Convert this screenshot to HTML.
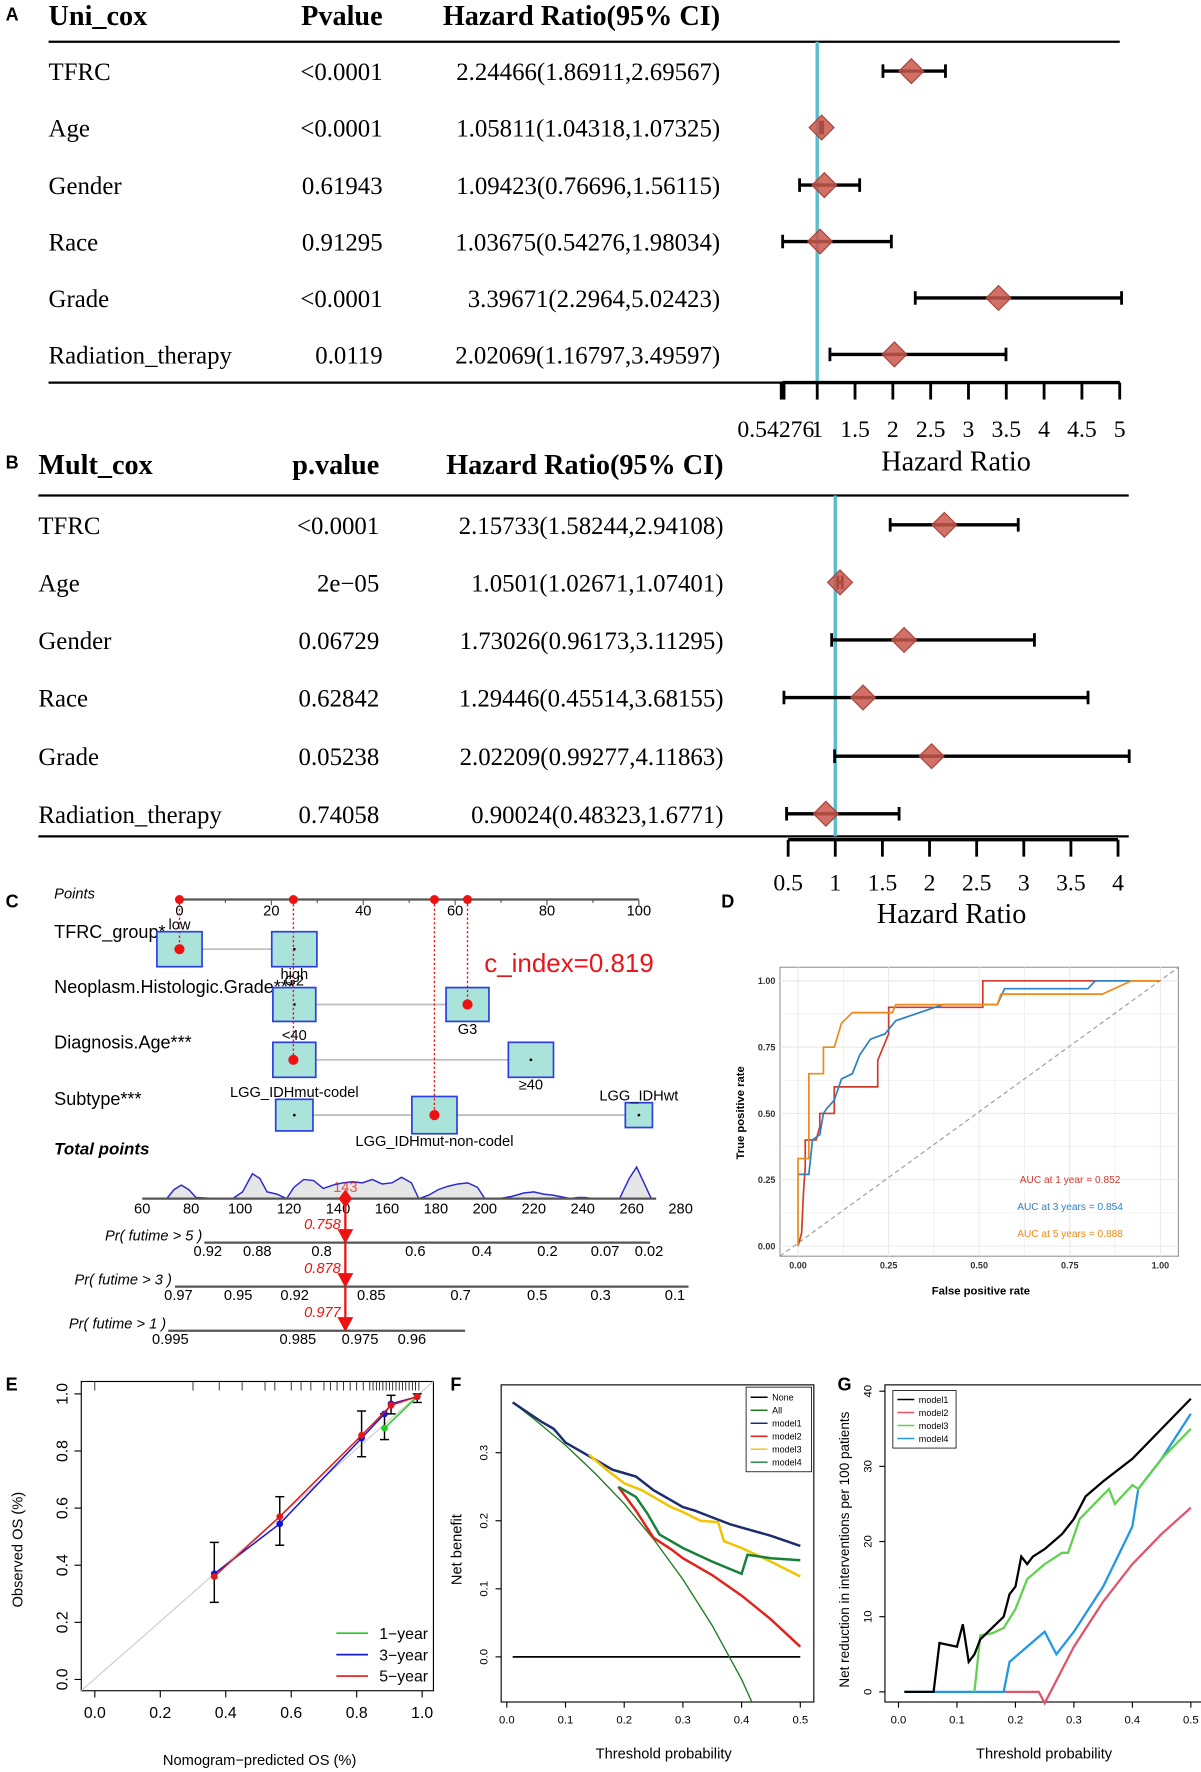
<!DOCTYPE html>
<html><head><meta charset="utf-8"><style>
html,body{margin:0;padding:0;background:#fff;}
svg{display:block;}
</style></head><body>
<svg id="fig" xmlns="http://www.w3.org/2000/svg" width="1201" height="1772" viewBox="0 0 1064 1570" preserveAspectRatio="none"></svg>
<script>
// ---------- DATA ----------
const uniNames=['TFRC','Age','Gender','Race','Grade','Radiation_therapy'];
const uniP=['<0.0001','<0.0001','0.61943','0.91295','<0.0001','0.0119'];
const uniHR=[2.24466,1.05811,1.09423,1.03675,3.39671,2.02069];
const uniLo=[1.86911,1.04318,0.76696,0.54276,2.2964,1.16797];
const uniHi=[2.69567,1.07325,1.56115,1.98034,5.02423,3.49597];
const uniTicks=[0.54276,1,1.5,2,2.5,3,3.5,4,4.5,5];
const multNames=['TFRC','Age','Gender','Race','Grade','Radiation_therapy'];
const multP=['<0.0001','2e\u221205','0.06729','0.62842','0.05238','0.74058'];
const multHR=[2.15733,1.0501,1.73026,1.29446,2.02209,0.90024];
const multLo=[1.58244,1.02671,0.96173,0.45514,0.99277,0.48323];
const multHi=[2.94108,1.07401,3.11295,3.68155,4.11863,1.6771];
const multTicks=[0.5,1,1.5,2,2.5,3,3.5,4];
// nomogram
const pointTicks=[0,10,20,30,40,50,60,70,80,90,100];
const selPoints=[0,24.8,55.5,62.7];
const totalTicks=[60,80,100,120,140,160,180,200,220,240,260,280];
const densX=[70,73,76,79,82,90,97,101,105,108,111,115,119,122,126,130,134,138,142,146,150,154,158,162,166,170,173,177,181,185,189,193,197,200,206,211,216,220,224,228,235,238,241,244,255,259,262,265,268];
const densY=[0,8,12,8,1,0,0,6,22,18,6,4,0,10,17,16,9,12,14,15,14,17,13,14,19,14,0,3,8,11,13,14,10,0,0,2,5,6,4,3,0,1,1,0,0,18,28,14,0];
const selTotal=143;
const pr5Labels=['0.92','0.88','0.8','0.6','0.4','0.2','0.07','0.02'];
const pr5Pos=[86.8,107,133.3,171.6,198.8,225.6,249.1,267.1];
const pr3Labels=['0.97','0.95','0.92','0.85','0.7','0.5','0.3','0.1'];
const pr3Pos=[74.8,99.2,122.3,153.6,190.1,221.4,247.3,277.7];
const pr1Labels=['0.995','0.985','0.975','0.96'];
const pr1Pos=[71.5,123.6,149,170.2];
// ROC
const rocRedX=[0,0.01,0.015,0.02,0.02,0.05,0.06,0.06,0.1,0.1,0.22,0.22,0.25,0.25,0.51,0.51,1];
const rocRedY=[0,0.05,0.2,0.3,0.4,0.4,0.45,0.5,0.5,0.6,0.6,0.7,0.8,0.9,0.9,1,1];
const rocBlueX=[0,0.03,0.04,0.06,0.07,0.08,0.1,0.12,0.15,0.17,0.2,0.24,0.27,0.4,0.55,0.57,0.8,0.82,1];
const rocBlueY=[0.27,0.27,0.4,0.42,0.5,0.52,0.55,0.63,0.65,0.72,0.78,0.8,0.85,0.91,0.91,0.97,0.97,1,1];
const rocOrX=[0,0,0.03,0.03,0.07,0.07,0.1,0.12,0.15,0.26,0.27,0.55,0.56,0.84,0.92,1];
const rocOrY=[0,0.33,0.33,0.65,0.65,0.75,0.75,0.84,0.88,0.88,0.91,0.91,0.95,0.95,1,1];
const aucLabels=['AUC at 1 year = 0.852','AUC at 3 years = 0.854','AUC at 5 years = 0.888'];
// calibration
const calPred=[0.365,0.565,0.815,0.885,0.905,0.985];
const calLo=[0.27,0.47,0.78,0.84,0.93,0.97];
const calHi=[0.48,0.64,0.94,0.93,0.995,1.0];
const cal5X=[0.365,0.565,0.815,0.905,0.985];
const cal5Y=[0.36,0.57,0.855,0.96,0.99];
const cal3X=[0.365,0.565,0.815,0.885,0.905,0.985];
const cal3Y=[0.37,0.545,0.845,0.93,0.965,0.99];
const cal1X=[0.885,0.985];
const cal1Y=[0.88,0.99];
const rug=[0.0,0.3,0.38,0.45,0.52,0.55,0.6,0.63,0.66,0.7,0.72,0.74,0.76,0.78,0.8,0.82,0.84,0.85,0.86,0.87,0.88,0.89,0.9,0.91,0.92,0.93,0.94,0.95,0.96,0.97,0.98,0.99];
// DCA F
const dAllX=[0.01,0.05,0.1,0.15,0.2,0.25,0.3,0.35,0.4,0.43];
const dAllY=[0.374,0.347,0.311,0.27,0.225,0.173,0.114,0.046,-0.033,-0.09];
const dM1X=[0.01,0.06,0.08,0.1,0.13,0.15,0.18,0.2,0.22,0.25,0.28,0.3,0.32,0.35,0.38,0.4,0.45,0.5];
const dM1Y=[0.374,0.345,0.335,0.315,0.3,0.29,0.275,0.27,0.265,0.245,0.23,0.22,0.215,0.205,0.195,0.19,0.178,0.163];
const dM2X=[0.19,0.22,0.25,0.28,0.3,0.35,0.4,0.45,0.5];
const dM2Y=[0.25,0.215,0.175,0.158,0.145,0.12,0.09,0.055,0.015];
const dM3X=[0.14,0.17,0.2,0.23,0.25,0.28,0.3,0.33,0.36,0.37,0.4,0.45,0.5];
const dM3Y=[0.297,0.275,0.255,0.245,0.235,0.22,0.213,0.2,0.198,0.17,0.16,0.14,0.118];
const dM4X=[0.19,0.22,0.24,0.26,0.3,0.35,0.4,0.41,0.45,0.5];
const dM4Y=[0.25,0.235,0.21,0.18,0.16,0.14,0.122,0.15,0.145,0.142];
const fTicksX=[0,0.1,0.2,0.3,0.4,0.5];
const fTicksY=[0,0.1,0.2,0.3];
// G
const gM1X=[0.01,0.06,0.07,0.1,0.11,0.12,0.13,0.14,0.16,0.18,0.19,0.2,0.21,0.22,0.23,0.25,0.28,0.3,0.32,0.35,0.4,0.45,0.5];
const gM1Y=[0,0,6.5,6,9,4,5,7,8.5,10,13,14,18,17,18,19,21,23,26,28,31,35,39];
const gM2X=[0.18,0.24,0.25,0.26,0.3,0.35,0.4,0.45,0.5];
const gM2Y=[0,0,-1.5,0,6,12,17,21,24.5];
const gM3X=[0.13,0.14,0.16,0.18,0.2,0.22,0.25,0.28,0.29,0.31,0.36,0.37,0.4,0.41,0.45,0.5];
const gM3Y=[0,7.5,7.8,8.5,11,15,17,18.5,18.5,23,27,25,27.5,27,31,35];
const gM4X=[0.01,0.18,0.19,0.25,0.27,0.3,0.35,0.4,0.41,0.45,0.5];
const gM4Y=[0,0,4,8,5,8,14,22,27,31,37];
const gTicksY=[0,10,20,30,40];

// ---------- HELPERS ----------
const NS='http://www.w3.org/2000/svg';
const svg=document.getElementById('fig');
function mk(tag,attrs,parent,text){const e=document.createElementNS(NS,tag);for(const k in attrs)e.setAttribute(k,attrs[k]);if(text!=null)e.textContent=text;(parent||svg).appendChild(e);return e;}
function grp(parent){return mk('g',{},parent);}
function poly(xs,ys,sx,sy){return xs.map((x,i)=>sx(x).toFixed(1)+','+sy(ys[i]).toFixed(1)).join(' ');}
const SERIF='Liberation Serif, serif', SANS='Liberation Sans, sans-serif';

// ---------- FOREST PLOTS ----------
function forest(o){
  const g=grp();
  
  
  let L=mk('text',{x:5,y:o.letterY,'font-family':SANS,'font-weight':'bold','font-size':16},g,o.letter);
  
  
  const hy=o.headY;
  let h1=mk('text',{x:o.x0,y:hy,'font-family':SERIF,'font-weight':'bold','font-size':25},g,o.title);
  
  
  let h2=mk('text',{x:o.pRight,y:hy,'text-anchor':'end','font-family':SERIF,'font-weight':'bold','font-size':25},g,o.pHead);
  
  
  let h3=mk('text',{x:o.hrRight,y:hy,'text-anchor':'end','font-family':SERIF,'font-weight':'bold','font-size':25},g,'Hazard Ratio(95% CI)');
  
  
  mk('line',{x1:o.x0,x2:o.xEnd,y1:o.topY,y2:o.topY,stroke:'#000','stroke-width':2},g);
  mk('line',{x1:o.x0,x2:o.xEnd,y1:o.botY,y2:o.botY,stroke:'#000','stroke-width':2},g);
  const sx=v=>o.oneX+(v-1)*o.unit;
  mk('line',{x1:sx(1),x2:sx(1),y1:o.topY,y2:o.botY,stroke:'#5bbccc','stroke-width':3},g);
  o.names.forEach((n,i)=>{
    const y=o.rows[i];
    let t=mk('text',{x:o.x0,y:y+8,'font-family':SERIF,'font-size':22},g,n);
    
    
    let p=mk('text',{x:o.pRight,y:y+8,'text-anchor':'end','font-family':SERIF,'font-size':22},g,o.p[i]);
    
    
    let h=mk('text',{x:o.hrRight,y:y+8,'text-anchor':'end','font-family':SERIF,'font-size':22},g,o.hr[i]+'('+o.lo[i]+','+o.hi[i]+')');
    
    
    let ci=mk('g',{},g);
    
    
    mk('line',{x1:sx(o.lo[i]),x2:sx(o.hi[i]),y1:y,y2:y,stroke:'#000','stroke-width':3},ci);
    mk('line',{x1:sx(o.lo[i]),x2:sx(o.lo[i]),y1:y-6,y2:y+6,stroke:'#000','stroke-width':2.5},ci);
    mk('line',{x1:sx(o.hi[i]),x2:sx(o.hi[i]),y1:y-6,y2:y+6,stroke:'#000','stroke-width':2.5},ci);
    const cx=sx(o.hr[i]);
    let d=mk('polygon',{points:`${cx-11},${y} ${cx},${y-11} ${cx+11},${y} ${cx},${y+11}`,fill:'#c9574c','fill-opacity':0.85,stroke:'#a84036','stroke-width':1},g);
    
    
  });
  const ax=grp(g);
  
  
  const t0=sx(o.ticks[0]),t1=sx(o.ticks[o.ticks.length-1]);
  mk('line',{x1:t0,x2:t1,y1:o.axisY,y2:o.axisY,stroke:'#000','stroke-width':3},ax);
  o.ticks.forEach((v,i)=>{
    mk('line',{x1:sx(v),x2:sx(v),y1:o.axisY,y2:o.axisY+15,stroke:'#000','stroke-width':(i==0&&o.thickFirst)?5:2.5},ax);
    let tl=mk('text',{x:sx(v)-(i==0&&o.thickFirst?6:0),y:o.tickLabY,'text-anchor':'middle','font-family':SERIF,'font-size':21},ax,String(v));
    
    
  });
  let xt=mk('text',{x:o.titleX,y:o.titleY,'text-anchor':'middle','font-family':SERIF,'font-size':25},g,'Hazard Ratio');
  
  
}
forest({name:'panel-a-univariate-cox',letter:'A',letterY:18,title:'Uni_cox',pHead:'Pvalue',x0:43,xEnd:992,pRight:339,hrRight:638,headY:22,topY:37,botY:339,
  rows:[63,113,164,214,264,314],names:uniNames,p:uniP,hr:uniHR,lo:uniLo,hi:uniHi,oneX:724,unit:67,ticks:uniTicks,thickFirst:true,axisY:339,tickLabY:387,titleX:847,titleY:417});
forest({name:'panel-b-multivariate-cox',letter:'B',letterY:415,title:'Mult_cox',pHead:'p.value',x0:34,xEnd:1000,pRight:336,hrRight:641,headY:420,topY:439,botY:741,
  rows:[465,516,567,618,670,721],names:multNames,p:multP,hr:multHR,lo:multLo,hi:multHi,oneX:740,unit:83.5,ticks:multTicks,thickFirst:false,axisY:744,tickLabY:789,titleX:843,titleY:818});

// ---------- NOMOGRAM C ----------
(function(){
  const g=grp();
  
  
  let L=mk('text',{x:5,y:804,'font-family':SANS,'font-weight':'bold','font-size':16},g,'C');
  
  
  const px=v=>159+v*4.07;
  const ay=797;
  mk('line',{x1:px(0),x2:px(100),y1:ay,y2:ay,stroke:'#555','stroke-width':2},g);
  pointTicks.forEach(v=>{
    mk('line',{x1:px(v),x2:px(v),y1:ay,y2:ay+(v%20==0?5:3),stroke:'#555','stroke-width':1},g);
    if(v%20==0){let t=mk('text',{x:px(v),y:ay+14,'text-anchor':'middle','font-family':SANS,'font-size':13},g,String(v));
      
      }
  });
  let pl=mk('text',{x:48,y:796,'font-family':SANS,'font-style':'italic','font-size':13},g,'Points');
  
  
  const rows=[
    {label:'TFRC_group*',ly:831,by:841,boxes:[{v:0,w:40,h:31,t:'low',tp:'above'},{v:25,w:40,h:31,t:'high',tp:'below'}]},
    {label:'Neoplasm.Histologic.Grade***',ly:880,by:890,boxes:[{v:25,w:38,h:30,t:'G2',tp:'above'},{v:62.7,w:38,h:30,t:'G3',tp:'below'}]},
    {label:'Diagnosis.Age***',ly:929,by:939,boxes:[{v:25,w:38,h:31,t:'<40',tp:'above'},{v:76.5,w:40,h:31,t:'\u226540',tp:'below'}]},
    {label:'Subtype***',ly:979,by:988,boxes:[{v:25,w:33,h:28,t:'LGG_IDHmut-codel',tp:'above'},{v:55.5,w:40,h:33,t:'LGG_IDHmut-non-codel',tp:'below'},{v:100,w:24,h:22,t:'LGG_IDHwt',tp:'above'}]},
  ];
  rows.forEach(r=>{
    let t=mk('text',{x:48,y:r.ly,'font-family':SANS,'font-size':16},g,r.label);
    
    
    const xs=r.boxes.map(b=>px(b.v));
    mk('line',{x1:Math.min(...xs),x2:Math.max(...xs),y1:r.by,y2:r.by,stroke:'#bbb','stroke-width':1.5},g);
    r.boxes.forEach(b=>{
      const x=px(b.v);
      let bx=mk('rect',{x:x-b.w/2,y:r.by-b.h/2,width:b.w,height:b.h,fill:'#a9e3da',stroke:'#2d3fe0','stroke-width':1.5},g);
      
      
      mk('circle',{cx:x,cy:r.by,r:1.2,fill:'#000'},g);
      const ty=b.tp=='above'?r.by-b.h/2-2:r.by+b.h/2+11;
      let lt=mk('text',{x:x,y:ty,'text-anchor':'middle','font-family':SANS,'font-size':13},g,b.t);
      
      
    });
  });
  const targets=[841,939,988,890];
  selPoints.forEach((v,i)=>{
    mk('line',{x1:px(v),x2:px(v),y1:ay,y2:targets[i],stroke:'#e11','stroke-width':1.2,'stroke-dasharray':'2,2'},g);
    let d=mk('circle',{cx:px(v),cy:ay,r:4,fill:'#e11'},g);
    
    
    mk('circle',{cx:px(v),cy:targets[i],r:4.5,fill:'#e11'},g);
  });
  let ci=mk('text',{x:429,y:861,'font-family':SANS,'font-size':23,fill:'#e8161b'},g,'c_index=0.819');
  
  
  let tp=mk('text',{x:48,y:1023,'font-family':SANS,'font-style':'italic','font-weight':'bold','font-size':15},g,'Total points');
  
  
  const tx=v=>126+(v-60)*(477/220);
  const ty0=1062;
  const pts=densX.map((x,i)=>tx(x).toFixed(1)+','+(ty0-densY[i]).toFixed(1)).join(' ');
  let dens=mk('polygon',{points:pts,fill:'#e6e6e6',stroke:'#2a2ad0','stroke-width':1.3},g);
  
  
  mk('line',{x1:tx(60),x2:tx(270),y1:ty0,y2:ty0,stroke:'#555','stroke-width':2},g);
  totalTicks.forEach(v=>{
    let t=mk('text',{x:tx(v),y:ty0+13,'text-anchor':'middle','font-family':SANS,'font-size':13},g,String(v));
    
    
  });
  const sx=tx(selTotal);
  mk('text',{x:sx,y:ty0-6,'text-anchor':'middle','font-family':SANS,'font-size':13,fill:'#e11','fill-opacity':0.7},g,String(selTotal));
  mk('polygon',{points:`${sx-6},${ty0} ${sx},${ty0-8} ${sx+6},${ty0} ${sx},${ty0+8}`,fill:'#e11'},g);
  const prs=[
    {lab:'Pr( futime > 5 )',lx:93,y:1101,x1:181,x2:576,labels:pr5Labels,pos:pr5Pos,val:'0.758'},
    {lab:'Pr( futime > 3 )',lx:66,y:1140,x1:155,x2:610,labels:pr3Labels,pos:pr3Pos,val:'0.878'},
    {lab:'Pr( futime > 1 )',lx:61,y:1179,x1:149,x2:412,labels:pr1Labels,pos:pr1Pos,val:'0.977'},
  ];
  mk('line',{x1:sx,x2:sx,y1:ty0,y2:1179,stroke:'#e11','stroke-width':2},g);
  prs.forEach(p=>{
    let l=mk('text',{x:p.lx,y:p.y-2,'font-family':SANS,'font-style':'italic','font-size':13},g,p.lab);
    
    
    mk('line',{x1:p.x1,x2:p.x2,y1:p.y,y2:p.y,stroke:'#555','stroke-width':2},g);
    p.labels.forEach((s,i)=>{
      let t=mk('text',{x:tx(p.pos[i]),y:p.y+12,'text-anchor':'middle','font-family':SANS,'font-size':13},g,s);
      
      
    });
    mk('polygon',{points:`${sx-7},${p.y-12} ${sx+7},${p.y-12} ${sx},${p.y+1}`,fill:'#e11'},g);
    let v=mk('text',{x:sx-4,y:p.y-12,'text-anchor':'end','font-family':SANS,'font-style':'italic','font-size':13,fill:'#e11'},g,p.val);
    
    
  });
})();

// ---------- ROC D ----------
(function(){
  const g=grp();
  
  
  let L=mk('text',{x:639,y:804,'font-family':SANS,'font-weight':'bold','font-size':16},g,'D');
  
  
  const sx=f=>707+f*321, sy=t=>1104-t*235;
  mk('rect',{x:691,y:857,width:353,height:256,fill:'#fff',stroke:'#999','stroke-width':1},g);
  [0,0.125,0.25,0.375,0.5,0.625,0.75,0.875,1].forEach((v,i)=>{
    const w=i%2==0?0.9:0.5;
    mk('line',{x1:sx(v),x2:sx(v),y1:857,y2:1113,stroke:'#e8e8e8','stroke-width':w},g);
    mk('line',{x1:691,x2:1044,y1:sy(v),y2:sy(v),stroke:'#e8e8e8','stroke-width':w},g);
  });
  [0,0.25,0.5,0.75,1].forEach(v=>{
    let a=mk('text',{x:sx(v),y:1124,'text-anchor':'middle','font-family':SANS,'font-size':8,'font-weight':'bold',fill:'#333'},g,v.toFixed(2));
    
    
    let b=mk('text',{x:687,y:sy(v)+3,'text-anchor':'end','font-family':SANS,'font-size':8,'font-weight':'bold',fill:'#333'},g,v.toFixed(2));
    
    
  });
  mk('line',{x1:691,y1:1113,x2:1044,y2:857,stroke:'#999','stroke-width':1,'stroke-dasharray':'4,3'},g);
  const series=[[rocRedX,rocRedY,'#d23a2a','roc-1-year'],[rocBlueX,rocBlueY,'#2c7fc4','roc-3-years'],[rocOrX,rocOrY,'#ec8a1a','roc-5-years']];
  series.forEach(s=>{
    let p=mk('polyline',{points:poly(s[0],s[1],sx,sy),fill:'none',stroke:s[2],'stroke-width':1.5},g);
    
    
  });
  const cols=['#d23a2a','#2c7fc4','#ec8a1a'];
  aucLabels.forEach((s,i)=>{
    let t=mk('text',{x:948,y:1048+i*24,'text-anchor':'middle','font-family':SANS,'font-size':9,fill:cols[i]},g,s);
    
    
  });
  let xt=mk('text',{x:869,y:1147,'text-anchor':'middle','font-family':SANS,'font-size':10,'font-weight':'bold'},g,'False positive rate');
  
  
  let yt=mk('text',{x:0,y:0,'text-anchor':'middle','font-family':SANS,'font-size':10,'font-weight':'bold',transform:'translate(659,986) rotate(-90)'},g,'True positive rate');
  
  
})();

// ---------- CALIBRATION E ----------
(function(){
  const g=grp();
  
  
  let L=mk('text',{x:5,y:1232,'font-family':SANS,'font-weight':'bold','font-size':16},g,'E');
  
  
  const sx=v=>84+v*290, sy=v=>1488-v*253;
  mk('rect',{x:72,y:1224,width:312,height:274,fill:'none',stroke:'#000','stroke-width':1},g);
  mk('line',{x1:72,y1:1498,x2:384,y2:1224,stroke:'#ccc','stroke-width':1},g);
  rug.forEach(v=>mk('line',{x1:sx(v),x2:sx(v),y1:1224,y2:1232,stroke:'#000','stroke-width':0.7},g));
  [0,0.2,0.4,0.6,0.8,1].forEach(v=>{
    mk('line',{x1:sx(v),x2:sx(v),y1:1498,y2:1504,stroke:'#000'},g);
    let a=mk('text',{x:sx(v),y:1522,'text-anchor':'middle','font-family':SANS,'font-size':14},g,v.toFixed(1));
    
    
    mk('line',{x1:72,x2:66,y1:sy(v),y2:sy(v),stroke:'#000'},g);
    let b=mk('text',{x:0,y:0,'text-anchor':'middle','font-family':SANS,'font-size':14,transform:`translate(60,${sy(v)}) rotate(-90)`},g,v.toFixed(1));
    
    
  });
  calPred.forEach((x,i)=>{
    let e=mk('g',{},g);
    
    
    mk('line',{x1:sx(x),x2:sx(x),y1:sy(calLo[i]),y2:sy(calHi[i]),stroke:'#000','stroke-width':1.3},e);
    mk('line',{x1:sx(x)-4,x2:sx(x)+4,y1:sy(calLo[i]),y2:sy(calLo[i]),stroke:'#000','stroke-width':1.3},e);
    mk('line',{x1:sx(x)-4,x2:sx(x)+4,y1:sy(calHi[i]),y2:sy(calHi[i]),stroke:'#000','stroke-width':1.3},e);
  });
  const ser=[[cal1X,cal1Y,'#22cc22','calibration-1-year'],[cal3X,cal3Y,'#1515d8','calibration-3-year'],[cal5X,cal5Y,'#e01818','calibration-5-year']];
  ser.forEach(s=>{
    let p=mk('polyline',{points:poly(s[0],s[1],sx,sy),fill:'none',stroke:s[2],'stroke-width':1.3},g);
    
    
    s[0].forEach((x,i)=>mk('circle',{cx:sx(x),cy:sy(s[1][i]),r:3,fill:s[2]},g));
  });
  const leg=['1\u2212year','3\u2212year','5\u2212year'],lc=['#22cc22','#1515d8','#e01818'];
  leg.forEach((s,i)=>{
    const y=1447+i*19;
    mk('line',{x1:298,x2:326,y1:y,y2:y,stroke:lc[i],'stroke-width':1.5},g);
    let t=mk('text',{x:336,y:y+5,'font-family':SANS,'font-size':14},g,s);
    
    
  });
  let xt=mk('text',{x:230,y:1564,'text-anchor':'middle','font-family':SANS,'font-size':13},g,'Nomogram\u2212predicted OS (%)');
  
  
  let yt=mk('text',{x:0,y:0,'text-anchor':'middle','font-family':SANS,'font-size':13,transform:'translate(20,1373) rotate(-90)'},g,'Observed OS (%)');
  
  
})();

// ---------- DCA F ----------
(function(){
  const g=grp();
  
  
  let L=mk('text',{x:399,y:1232,'font-family':SANS,'font-weight':'bold','font-size':16},g,'F');
  
  
  const sx=v=>449+v*520, sy=v=>1468-v*603;
  const cp=mk('clipPath',{id:'clipF'},svg);
  mk('rect',{x:444,y:1227,width:277,height:281},cp);
  mk('rect',{x:444,y:1227,width:277,height:281,fill:'none',stroke:'#000','stroke-width':1},g);
  fTicksX.forEach(v=>{
    mk('line',{x1:sx(v),x2:sx(v),y1:1508,y2:1513,stroke:'#000'},g);
    let a=mk('text',{x:sx(v),y:1527,'text-anchor':'middle','font-family':SANS,'font-size':10},g,v.toFixed(1));
    
    
  });
  fTicksY.forEach(v=>{
    mk('line',{x1:444,x2:439,y1:sy(v),y2:sy(v),stroke:'#000'},g);
    let b=mk('text',{x:0,y:0,'text-anchor':'middle','font-family':SANS,'font-size':10,transform:`translate(432,${sy(v)}) rotate(-90)`},g,v.toFixed(1));
    
    
  });
  const c=mk('g',{'clip-path':'url(#clipF)'},g);
  let none=mk('line',{x1:sx(0.01),x2:sx(0.5),y1:sy(0),y2:sy(0),stroke:'#000','stroke-width':1.5},c);
  
  
  const ser=[[dAllX,dAllY,'#1e7b1e','curve-all',1.2],[dM1X,dM1Y,'#1c2c6e','curve-model1',2.2],[dM2X,dM2Y,'#e2231a','curve-model2',2.2],[dM3X,dM3Y,'#f2c300','curve-model3',2.2],[dM4X,dM4Y,'#17803a','curve-model4',2.2]];
  ser.forEach(s=>{
    let p=mk('polyline',{points:poly(s[0],s[1],sx,sy),fill:'none',stroke:s[2],'stroke-width':s[4]},c);
    
    
  });
  const lg=mk('g',{},g);
  
  
  mk('rect',{x:661,y:1229,width:58,height:75,fill:'#fff',stroke:'#000','stroke-width':0.7},lg);
  const names=['None','All','model1','model2','model3','model4'],cols=['#000','#1e7b1e','#1c2c6e','#e2231a','#f2c300','#17803a'];
  names.forEach((n,i)=>{
    const y=1238+i*11.5;
    mk('line',{x1:665,x2:680,y1:y,y2:y,stroke:cols[i],'stroke-width':1.3},lg);
    let t=mk('text',{x:684,y:y+3,'font-family':SANS,'font-size':8},lg,n);
    
    
  });
  let xt=mk('text',{x:588,y:1558,'text-anchor':'middle','font-family':SANS,'font-size':13},g,'Threshold probability');
  
  
  let yt=mk('text',{x:0,y:0,'text-anchor':'middle','font-family':SANS,'font-size':13,transform:'translate(409,1373) rotate(-90)'},g,'Net benefit');
  
  
})();

// ---------- G ----------
(function(){
  const g=grp();
  
  
  let L=mk('text',{x:742,y:1232,'font-family':SANS,'font-weight':'bold','font-size':16},g,'G');
  
  
  const sx=v=>796+v*518, sy=v=>1499-v*6.66;
  mk('rect',{x:784,y:1227,width:281,height:281,fill:'none',stroke:'#000','stroke-width':1},g);
  fTicksX.forEach(v=>{
    mk('line',{x1:sx(v),x2:sx(v),y1:1508,y2:1513,stroke:'#000'},g);
    let a=mk('text',{x:sx(v),y:1527,'text-anchor':'middle','font-family':SANS,'font-size':10},g,v.toFixed(1));
    
    
  });
  gTicksY.forEach(v=>{
    mk('line',{x1:784,x2:779,y1:sy(v),y2:sy(v),stroke:'#000'},g);
    let b=mk('text',{x:0,y:0,'text-anchor':'middle','font-family':SANS,'font-size':10,transform:`translate(772,${sy(v)}) rotate(-90)`},g,String(v));
    
    
  });
  const ser=[[gM2X,gM2Y,'#df536b','curve-model2'],[gM4X,gM4Y,'#2297e6','curve-model4'],[gM3X,gM3Y,'#61d04f','curve-model3'],[gM1X,gM1Y,'#000','curve-model1']];
  ser.forEach(s=>{
    let p=mk('polyline',{points:poly(s[0],s[1],sx,sy),fill:'none',stroke:s[2],'stroke-width':2},g);
    
    
  });
  const lg=mk('g',{},g);
  
  
  mk('rect',{x:791,y:1232,width:56,height:51,fill:'#fff',stroke:'#000','stroke-width':0.7},lg);
  const names=['model1','model2','model3','model4'],cols=['#000','#df536b','#61d04f','#2297e6'];
  names.forEach((n,i)=>{
    const y=1240+i*11.5;
    mk('line',{x1:795,x2:810,y1:y,y2:y,stroke:cols[i],'stroke-width':1.3},lg);
    let t=mk('text',{x:814,y:y+3,'font-family':SANS,'font-size':8},lg,n);
    
    
  });
  let xt=mk('text',{x:925,y:1558,'text-anchor':'middle','font-family':SANS,'font-size':13},g,'Threshold probability');
  
  
  let yt=mk('text',{x:0,y:0,'text-anchor':'middle','font-family':SANS,'font-size':12,transform:'translate(752,1373) rotate(-90)'},g,'Net reduction in interventions per 100 patients');
  
  
})();
</script>
</body></html>
